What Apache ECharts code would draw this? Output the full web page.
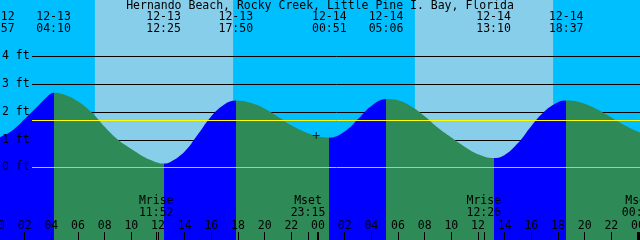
<!DOCTYPE html>
<html><head><meta charset="utf-8">
<script src="https://cdn.jsdelivr.net/npm/echarts@6/dist/echarts.min.js"></script>
<style>html,body{margin:0;padding:0;background:#fff}#c{width:640px;height:240px}</style>
</head><body><div id="c"></div>
<script>
// ---- data ----
const TITLE = 'Hernando Beach, Rocky Creek, Little Pine I. Bay, Florida';
const DAYS = ['12-12', '12-13', '12-14', '12-15'];           // day index -1..2 (hours from 12-13 00:00)
const tideDates = ['12-12', '12-13', '12-13', '12-13', '12-14', '12-14', '12-14', '12-14'];
const tideTimes = ['23:57', '04:10', '12:25', '17:50', '00:51', '05:06', '13:10', '18:37'];
const tideKinds = ['L', 'H', 'L', 'H', 'L', 'H', 'L', 'H'];
// water level (hours since 12-13 00:00, feet)
const curveHours = [0.15, 1, 2, 3, 3.65, 4.17, 5, 6, 7, 8, 9, 10, 11, 11.5, 12, 12.42, 13, 14, 15, 16, 17, 17.83,
  19, 20, 21, 22, 23, 24, 24.85, 26, 27, 28, 29.1, 30, 31, 32, 33, 34, 35, 36, 37.17, 38, 39, 40, 41, 42, 42.62,
  43.5, 44.5, 45.5, 46.5, 47.5, 48.3];
const curveFeet = [1.10, 1.31, 1.75, 2.22, 2.53, 2.69, 2.62, 2.38, 2.00, 1.47, 1.00, 0.67, 0.37, 0.26, 0.17, 0.14, 0.22, 0.58, 1.20, 1.85, 2.28, 2.41,
  2.32, 2.12, 1.83, 1.52, 1.28, 1.13, 1.08, 1.30, 1.75, 2.22, 2.47, 2.42, 2.20, 1.85, 1.43, 1.08, 0.75, 0.48, 0.34, 0.45, 0.88, 1.50, 2.03, 2.35, 2.41,
  2.37, 2.20, 1.95, 1.66, 1.40, 1.23];
const sunDates = ['12-13', '12-13', '12-14', '12-14'];
const sunTimes = ['07:16', '17:38', '07:16', '17:38'];           // sunrise, sunset pairs
const moonDates = ['12-13', '12-13', '12-14', '12-15'];
const moonTimes = ['11:52', '23:15', '12:26', '00:05'];
const moonKinds = ['Mrise', 'Mset', 'Mrise', 'Mset'];
const hourTicks = [0, 2, 4, 6, 8, 10, 12, 14, 16, 18, 20, 22, 24, 26, 28, 30, 32, 34, 36, 38, 40, 42, 44, 46, 48];
const midnightTicks = [0, 24, 48];
const footTicks = [0, 1, 2, 3, 4];
const MSL_FT = 1.69;
const crossDate = '12-13', crossTime = '23:52', crossFeet = 1.15;

// ---- layout / style ----
const FONT = 'DejaVu Sans Mono', FS = 11.5;
const PXH = 640 / 48;            // px per hour
const X0 = -2;                   // pixel of hour 0
const X_MIN = -0.3, X_MAX = 48.3;
const PXF = 27.75, Y0 = 167.5;   // px per foot, pixel of 0 ft
const LINE_LEFT = 32;
const FLOOD = '#0000FF', EBB = '#2E8B57', NIGHT = '#00BFFF', DAY = '#87CEEB';

function toHours(d, t) {
  const di = DAYS.indexOf(d) - 1;
  const p = t.split(':').map(Number);
  return di * 24 + p[0] + p[1] / 60;
}
const tideHours = tideDates.map((d, i) => toHours(d, tideTimes[i]));
const sunHours = sunDates.map((d, i) => toHours(d, sunTimes[i]));
const moonHours = moonDates.map((d, i) => toHours(d, moonTimes[i]));
const curve = curveHours.map((h, i) => [h, curveFeet[i]]);

const pieces = [{ lt: tideHours[0], color: tideKinds[0] === 'L' ? EBB : FLOOD }];
for (let i = 0; i < tideHours.length; i++) {
  const p = { gte: tideHours[i], color: tideKinds[i] === 'L' ? FLOOD : EBB };
  if (i + 1 < tideHours.length) p.lt = tideHours[i + 1];
  pieces.push(p);
}
const dayAreas = [];
for (let i = 0; i < sunHours.length; i += 2) dayAreas.push([{ xAxis: sunHours[i] }, { xAxis: sunHours[i + 1] }]);

const gridLeft = X0 + X_MIN * PXH;
const gridRight = 640 - (X0 + X_MAX * PXH);
const txt = { fontFamily: FONT, fontSize: FS, color: '#000' };
const pad = n => (n < 10 ? '0' : '') + n;
const baseX = { type: 'value', gridIndex: 0, min: X_MIN, max: X_MAX, z: 10,
  axisLine: { show: false, onZero: false }, splitLine: { show: false } };

const chart = echarts.init(document.getElementById('c'), null, { renderer: 'canvas' });
chart.setOption({
  animation: false,
  backgroundColor: '#fff',
  title: { text: TITLE, left: 'center', top: 0, padding: 0,
    textStyle: Object.assign({ fontWeight: 'normal', lineHeight: 12 }, txt) },
  grid: [
    { left: gridLeft, right: gridRight, top: 0, bottom: 0, show: true, backgroundColor: NIGHT, borderWidth: 0,
      containLabel: false, outerBoundsMode: 'none' },
    { left: LINE_LEFT, right: gridRight, top: Y0 - 4 * PXF, height: 4 * PXF, containLabel: false, outerBoundsMode: 'none' }
  ],
  visualMap: { type: 'piecewise', show: false, dimension: 0, seriesIndex: 0, pieces: pieces },
  xAxis: [
    Object.assign({}, baseX, { position: 'bottom',
      axisTick: { show: true, inside: true, length: 8, customValues: hourTicks.concat(moonHours), lineStyle: { color: '#000', width: 1 } },
      axisLabel: Object.assign({ inside: true, margin: 8, lineHeight: 12, customValues: hourTicks,
        formatter: v => pad(((v % 24) + 24) % 24) }, txt) }),
    Object.assign({}, baseX, { position: 'top', axisTick: { show: false },
      axisLabel: Object.assign({ inside: true, margin: 11, lineHeight: 12, customValues: tideHours,
        formatter: v => { const i = tideHours.indexOf(v); return tideDates[i] + '\n' + tideTimes[i]; } }, txt) }),
    Object.assign({}, baseX, { position: 'bottom', axisTick: { show: false },
      axisLabel: Object.assign({ inside: true, margin: 21, lineHeight: 12, customValues: moonHours,
        formatter: v => { const i = moonHours.indexOf(v); return moonKinds[i] + '\n' + moonTimes[i]; } }, txt) }),
    Object.assign({}, baseX, { position: 'bottom', axisLabel: { show: false },
      axisTick: { show: true, inside: true, length: 8, customValues: midnightTicks, lineStyle: { color: '#000', width: 2 } } }),
    { type: 'value', gridIndex: 1, min: 0, max: 1, show: false, axisLine: { onZero: false } }
  ],
  yAxis: [
    { type: 'value', gridIndex: 0, min: -(240 - Y0) / PXF, max: Y0 / PXF, z: 10,
      axisLine: { show: false, onZero: false }, axisTick: { show: false }, splitLine: { show: false },
      axisLabel: Object.assign({ inside: true, margin: 8, customValues: footTicks, formatter: v => v + ' ft' }, txt) },
    { type: 'value', gridIndex: 1, min: 0, max: 4, interval: 1, z: 1.5,
      axisLine: { show: false, onZero: false }, axisTick: { show: false }, axisLabel: { show: false },
      splitLine: { show: true, lineStyle: { color: '#000', width: 1 } } }
  ],
  series: [
    { type: 'line', xAxisIndex: 0, yAxisIndex: 0, z: 2, data: curve, smooth: 0.4, showSymbol: false,
      lineStyle: { width: 0, opacity: 0 }, areaStyle: { opacity: 1, origin: 'start' }, silent: true,
      markArea: { silent: true, z: 1, itemStyle: { color: DAY, opacity: 1 }, data: dayAreas } },
    { type: 'line', xAxisIndex: 4, yAxisIndex: 1, data: [], silent: true,
      markLine: { silent: true, symbol: 'none', z: 5, label: { show: false },
        data: [
          { yAxis: MSL_FT, lineStyle: { color: '#FFFF00', width: 1, type: 'solid' } },
          { yAxis: 0, lineStyle: { color: DAY, width: 1, type: 'solid' } }
        ] } },
    { type: 'scatter', xAxisIndex: 0, yAxisIndex: 0, z: 6, silent: true,
      symbol: 'path://M0,3h7v1h-7z M3,0h1v7h-1z', symbolSize: 7, itemStyle: { color: '#000' },
      data: [[toHours(crossDate, crossTime), crossFeet]] }
  ]
});
</script></body></html>
